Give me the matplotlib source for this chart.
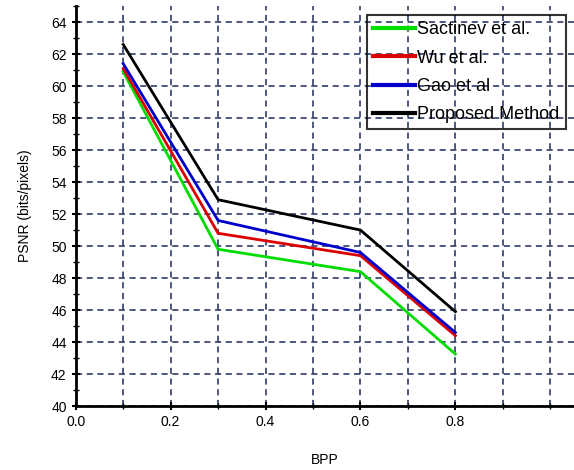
import matplotlib.pyplot as plt
from matplotlib.ticker import MultipleLocator

plt.rcParams['font.family'] = ['Liberation Sans', 'DejaVu Sans']

# values
bpp = [0.1, 0.3, 0.6, 0.8]
sachinev = [60.9, 49.8, 48.4, 43.25]
wu = [61.1, 50.8, 49.4, 44.4]
gao = [61.4, 51.6, 49.6, 44.6]
proposed = [62.6, 52.9, 51.0, 45.9]

labels = ['Sactinev et al.', 'Wu et al.', 'Gao et al', 'Proposed Method']
colors = ['#00dd00', '#dd0000', '#0000cc', '#000000']

fig = plt.figure(figsize=(5.74, 4.70), dpi=100)
ax = fig.add_axes([0.132, 0.136, 0.868, 0.851])

for ys, lab, c in zip([sachinev, wu, gao, proposed], labels, colors):
    ax.plot(bpp, ys, color=c, lw=2, label=lab)

ax.set_xlim(0, 1.05)
ax.set_ylim(40, 65)
ax.xaxis.set_major_locator(MultipleLocator(0.2))
ax.xaxis.set_minor_locator(MultipleLocator(0.1))
ax.yaxis.set_major_locator(MultipleLocator(2))
ax.yaxis.set_minor_locator(MultipleLocator(1))
ax.set_xticks([0.0, 0.2, 0.4, 0.6, 0.8])
ax.set_xticklabels(['0.0', '0.2', '0.4', '0.6', '0.8'])

grid_kw = dict(color='#1c2b5c', linestyle=(0, (4, 3)), linewidth=1.1)
ax.grid(True, which='major', axis='both', **grid_kw)
ax.grid(True, which='minor', axis='x', **grid_kw)

for side in ['top', 'right']:
    ax.spines[side].set_visible(False)
for side in ['left', 'bottom']:
    ax.spines[side].set_linewidth(2)

ax.tick_params(axis='both', which='major', direction='inout', length=6, width=1.5,
               labelsize=10, colors='black')
ax.tick_params(axis='both', which='minor', direction='inout', length=4, width=1)

ax.set_ylabel('PSNR (bits/pixels)', fontsize=10, labelpad=14)
ax.set_xlabel('BPP', fontsize=10, labelpad=17)

leg = ax.legend(loc='upper left', bbox_to_anchor=(0.566, 1.0), fontsize=13,
                frameon=True, fancybox=False, edgecolor='black',
                handlelength=2.3, handletextpad=0.15, labelspacing=0.62,
                borderpad=0.35)
leg.get_frame().set_facecolor('none')
leg.get_frame().set_linewidth(1.5)
for h in leg.get_lines():
    h.set_linewidth(3)

fig.savefig('out.png', dpi=100)
